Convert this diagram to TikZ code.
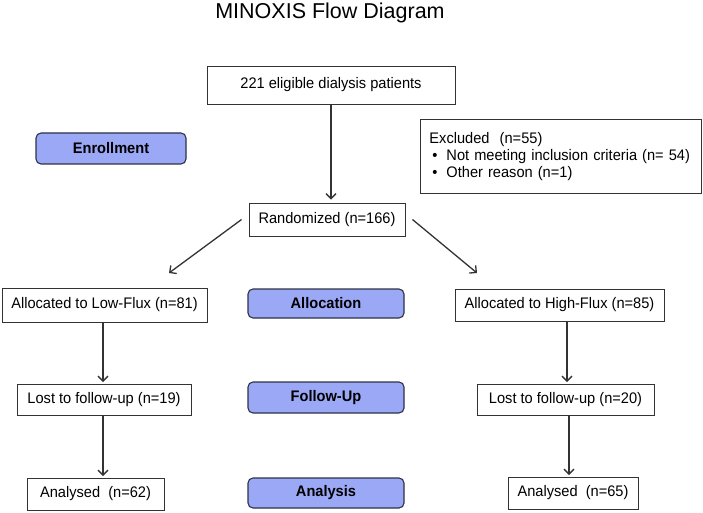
\documentclass[tikz,border=0pt]{standalone}
\usepackage{fontspec}
\setmainfont{Liberation Sans}
\newfontfamily\narrowsans{Liberation Sans}[FakeStretch=0.955]
\usetikzlibrary{arrows.meta}
\definecolor{phasefill}{RGB}{155,168,246}
\definecolor{phaseline}{RGB}{45,50,70}
\begin{document}
\begin{tikzpicture}[x=1pt,y=-1pt,
  box/.style={draw=black!80, line width=0.9pt, fill=white, inner sep=0pt, font=\narrowsans\fontsize{15.3}{17}\selectfont},
  phase/.style={draw=phaseline, fill=phasefill, line width=1.1pt, rounded corners=5pt, inner sep=0pt, minimum width=156pt, font=\narrowsans\bfseries\fontsize{15.3}{17}\selectfont},
  arr/.style={draw=black!80, line width=1.3pt, -{Straight Barb[length=5pt,width=10pt]}, shorten >=1.5pt}]
\useasboundingbox (0,0) rectangle (703,513);

\node[font=\fontsize{21.5}{26}\selectfont, anchor=base, inner sep=0pt] (title) at (330,18.5) {MINOXIS Flow Diagram};

\node[box, minimum width=248pt, minimum height=38pt] (top) at (331,85) {221 eligible dialysis patients};
\node[box, anchor=north west, minimum height=74pt, text width=263pt, inner xsep=9pt, align=left] (excl) at (420,119)
  {Excluded\ \ (n=55)\\\hspace*{3pt}\makebox[14pt][l]{•}Not meeting inclusion criteria (n= 54)\\\hspace*{3pt}\makebox[14pt][l]{•}Other reason (n=1)};

\node[phase, minimum width=150pt, minimum height=31pt] (enroll) at (111,148.5) {Enrollment};
\node[box, minimum width=156pt, minimum height=33pt] (rand) at (327,219.5) {Randomized (n=166)};

\node[box, minimum width=205pt, minimum height=34pt] (low) at (104.5,305) {Allocated to Low-Flux (n=81)};
\node[phase, minimum height=29pt] (alloc) at (326,303.5) {Allocation};
\node[box, minimum width=209pt, minimum height=32pt] (high) at (559.5,305) {Allocated to High-Flux (n=85)};

\node[box, minimum width=174pt, minimum height=31pt] (lostL) at (104,399.5) {Lost to follow-up (n=19)};
\node[phase, minimum height=31pt] (follow) at (326,397.5) {Follow-Up};
\node[box, minimum width=177pt, minimum height=31pt] (lostR) at (565.5,399.5) {Lost to follow-up (n=20)};

\node[box, minimum width=137pt, minimum height=32pt] (anaL) at (95.5,494) {Analysed\ \ (n=62)};
\node[phase, minimum height=30pt] (analysis) at (326,493) {Analysis};
\node[box, minimum width=130pt, minimum height=32pt] (anaR) at (573,493) {Analysed\ \ (n=65)};

\coordinate (dl1) at ([xshift=-7pt]rand.west);
\coordinate (dl2) at (169,273);
\coordinate (dr1) at ([xshift=7pt]rand.east);
\coordinate (dr2) at (477,273);

\draw[arr, shorten >=3pt] (top.south) -- (top.south |- rand.north);
\draw[arr, shorten >=0pt] (dl1) -- (dl2);
\draw[arr, shorten >=0pt] (dr1) -- (dr2);
\draw[arr] ([xshift=-1.5pt]low.south) -- ([xshift=-1.5pt]low.south |- lostL.north);
\draw[arr] ([xshift=-1pt]lostL.south) -- ([xshift=-1pt]lostL.south |- anaL.north);
\draw[arr] ([xshift=1.5pt]lostR.north |- high.south) -- ([xshift=1.5pt]lostR.north);
\draw[arr] ([xshift=3.5pt]lostR.south) -- ([xshift=3.5pt]lostR.south |- anaR.north);
\end{tikzpicture}
\end{document}
